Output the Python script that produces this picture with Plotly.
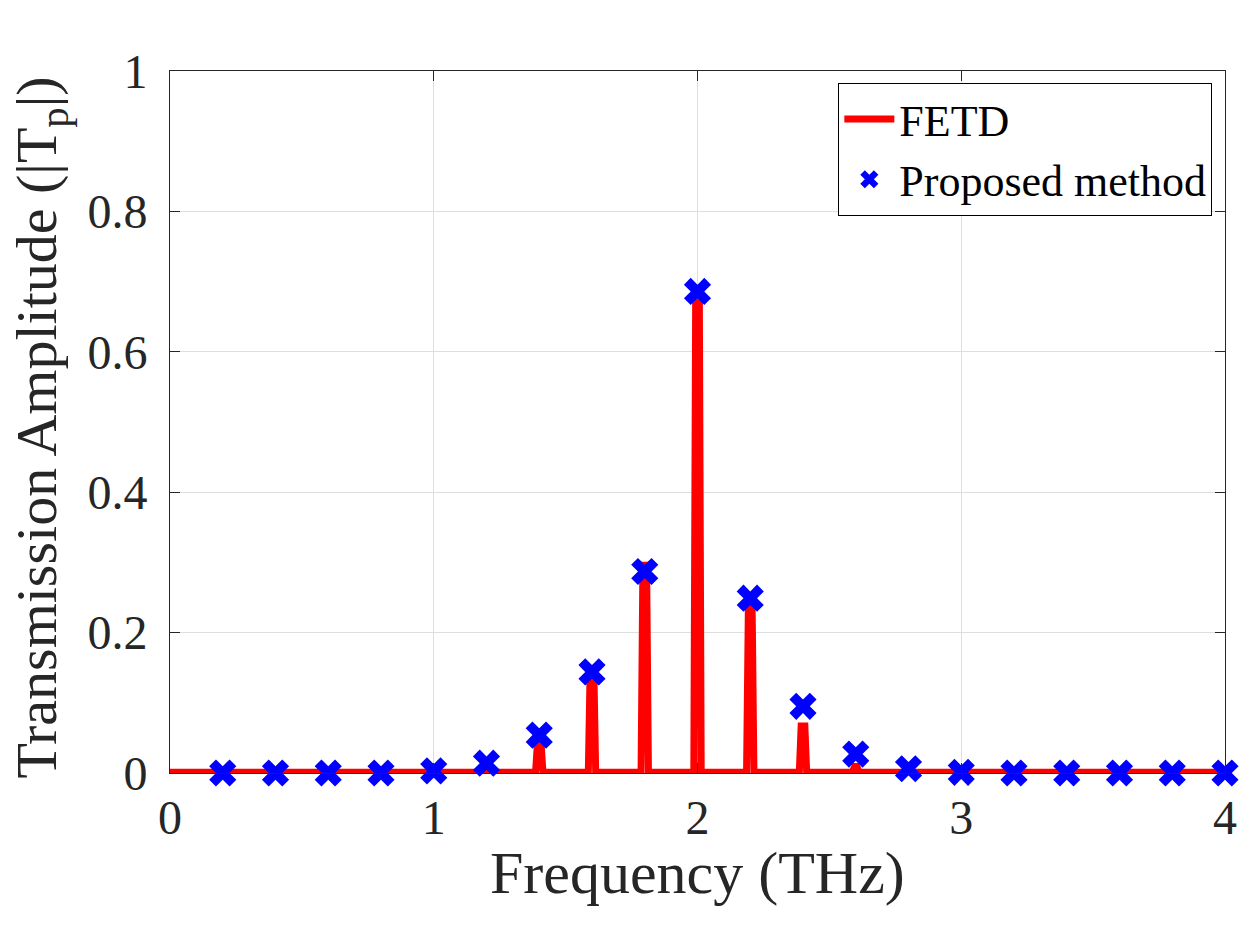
#!/usr/bin/env python3
"""Transmission amplitude spectrum: FETD reference versus the proposed method."""

import plotly.graph_objects as go

# FETD trace: flat noise floor with narrow resonance spikes (THz, |Tp|)
FETD_FREQ = [
    0.0, 1.386,
    1.386, 1.393, 1.407, 1.414,
    1.586, 1.593, 1.607, 1.614,
    1.786, 1.793, 1.807, 1.814,
    1.986, 1.993, 2.007, 2.014,
    2.186, 2.193, 2.207, 2.214,
    2.386, 2.393, 2.407, 2.414,
    2.586, 2.600, 2.614,
    4.0,
]
FETD_AMP = [
    0.001, 0.001,
    0.001, 0.042, 0.042, 0.001,
    0.001, 0.147, 0.147, 0.001,
    0.001, 0.296, 0.296, 0.001,
    0.001, 0.672, 0.672, 0.001,
    0.001, 0.240, 0.240, 0.001,
    0.001, 0.067, 0.067, 0.001,
    0.001, 0.012, 0.001,
    0.001,
]

# Proposed method samples
METHOD_FREQ = [0.2, 0.4, 0.6, 0.8, 1.0, 1.2, 1.4, 1.6, 1.8, 2.0,
               2.2, 2.4, 2.6, 2.8, 3.0, 3.2, 3.4, 3.6, 3.8, 4.0]
METHOD_AMP = [0.0, 0.0, 0.0, 0.0, 0.003, 0.014, 0.054, 0.144, 0.287, 0.686,
              0.249, 0.095, 0.027, 0.006, 0.001, 0.0, 0.0, 0.0, 0.0, 0.0]

X_TICKS = [0, 1, 2, 3, 4]
Y_TICKS = [0, 0.2, 0.4, 0.6, 0.8, 1]
Y_TICK_LABELS = ["0", "0.2", "0.4", "0.6", "0.8", "1"]

FONT = "Liberation Serif"
INK = "#262626"
GRID = "#dedede"

fig = go.Figure()
fig.add_trace(
    go.Scatter(
        x=FETD_FREQ,
        y=FETD_AMP,
        mode="lines",
        name="FETD",
        line={"color": "#ff0000", "width": 7},
        cliponaxis=False,
    )
)
fig.add_trace(
    go.Scatter(
        x=METHOD_FREQ,
        y=METHOD_AMP,
        mode="markers",
        name="Proposed method",
        marker={"symbol": "x", "size": 24, "color": "#0000ff", "line": {"width": 0}},
        cliponaxis=False,
    )
)

axis_common = {
    "showline": True,
    "linecolor": INK,
    "linewidth": 1,
    "mirror": "ticks",
    "ticks": "inside",
    "ticklen": 10,
    "tickwidth": 1,
    "tickcolor": INK,
    "showgrid": True,
    "gridcolor": GRID,
    "gridwidth": 1,
    "zeroline": False,
    "tickfont": {"family": FONT, "size": 48, "color": INK},
}

fig.update_layout(
    width=1256,
    height=936,
    paper_bgcolor="white",
    plot_bgcolor="white",
    # page body adds an 8px offset, so margins are shifted to compensate
    margin={"l": 162, "r": 39, "t": 63, "b": 171},
    showlegend=True,
    legend={
        "x": 0.988,
        "y": 0.983,
        "xanchor": "right",
        "yanchor": "top",
        "bgcolor": "white",
        "bordercolor": "#000000",
        "borderwidth": 1,
        "itemwidth": 50,
        "font": {"family": FONT, "size": 44, "color": "#000000"},
        "tracegroupgap": 0,
    },
    xaxis={
        **axis_common,
        "range": [0, 4],
        "tickvals": X_TICKS,
        "ticktext": [str(v) for v in X_TICKS],
        "ticklabelstandoff": 2,
    },
    yaxis={
        **axis_common,
        "range": [0, 1],
        "tickvals": Y_TICKS,
        "ticktext": Y_TICK_LABELS,
        "ticklabelstandoff": 12,
    },
    annotations=[
        {
            "text": "Frequency (THz)",
            "xref": "paper",
            "yref": "paper",
            "x": 0.5,
            "y": -0.142,
            "xanchor": "center",
            "yanchor": "middle",
            "showarrow": False,
            "font": {"family": FONT, "size": 60, "color": INK},
        },
        {
            "text": "Transmission Amplitude (|T<sub>p</sub>|)",
            "xref": "paper",
            "yref": "paper",
            "x": -0.1225,
            "y": 0.492,
            "xanchor": "center",
            "yanchor": "middle",
            "textangle": -90,
            "showarrow": False,
            "font": {"family": FONT, "size": 58, "color": INK},
        },
    ],
)

fig.write_html("out.html")
